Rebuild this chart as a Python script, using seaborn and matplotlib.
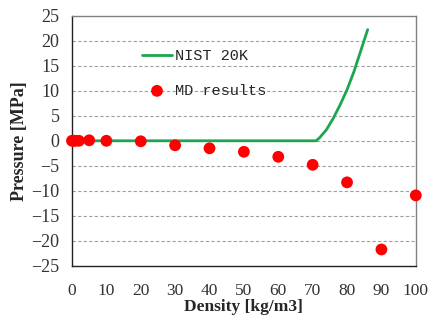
import matplotlib
matplotlib.use("Agg")
import matplotlib.pyplot as plt
import seaborn as sns
import pandas as pd

# NIST reference isotherm at 20 K
nist_density = [0, 10, 20, 30, 40, 50, 60, 70, 71, 72, 74, 76, 78, 80, 82, 84, 86]
nist_pressure = [0, 0, 0, 0, 0, 0, 0, 0, 0, 0.6, 2.2, 4.5, 7.2, 10.2, 13.8, 18.0, 22.2]

# Molecular dynamics results
md_density = [0, 0.5, 1, 2, 5, 10, 20, 30, 40, 50, 60, 70, 80, 90, 100]
md_pressure = [0, 0, 0, 0, 0.1, 0, -0.1, -0.9, -1.5, -2.2, -3.2, -4.8, -8.3, -21.7, -10.9]

x_ticks = [0, 10, 20, 30, 40, 50, 60, 70, 80, 90, 100]
y_ticks = [-25, -20, -15, -10, -5, 0, 5, 10, 15, 20, 25]

sns.set_style("white")
plt.rcParams["font.family"] = ["Liberation Serif", "DejaVu Serif"]

fig = plt.figure(figsize=(4.3, 3.2), dpi=100)
ax = fig.add_axes([0.1674, 0.1688, 0.7996, 0.7825])

nist = pd.DataFrame({"density": nist_density, "pressure": nist_pressure})
md = pd.DataFrame({"density": md_density, "pressure": md_pressure})

sns.lineplot(data=nist, x="density", y="pressure", ax=ax, color="#1ca64f",
             linewidth=2.0, label="NIST 20K", zorder=3)
sns.scatterplot(data=md, x="density", y="pressure", ax=ax, color="#ff0000",
                s=72, edgecolor="none", label="MD results", zorder=4, clip_on=False)

ax.set_xlim(0, 100)
ax.set_ylim(-25, 25)
ax.set_xticks(x_ticks)
ax.set_yticks(y_ticks)
ax.tick_params(axis="x", direction="inout", length=8, width=0.8, color="#444444",
               labelsize=12.5, pad=8)
ax.tick_params(axis="y", direction="out", length=4, width=0.8, color="#888888",
               labelsize=13, pad=5)
for lab in ax.get_xticklabels() + ax.get_yticklabels():
    lab.set_color("#333333")

for y in y_ticks[1:-1]:
    ax.axhline(y, color="#a0a0a0", linestyle=(0, (3, 2)), linewidth=0.8, zorder=1)

ax.spines["left"].set_color("#222222")
ax.spines["bottom"].set_color("#222222")
ax.spines["top"].set_color("#808080")
ax.spines["right"].set_color("#808080")
for s in ax.spines.values():
    s.set_linewidth(1.0)

ax.set_xlabel("Density [kg/m3]", fontsize=12.5, fontweight="bold", labelpad=0)
ax.set_ylabel("Pressure [MPa]", fontsize=13, fontweight="bold", labelpad=2)

ax.legend(loc="upper left", bbox_to_anchor=(0.185, 0.89), frameon=False,
          prop={"family": ["Liberation Mono"], "size": 11},
          handlelength=2.0, labelspacing=1.35, handletextpad=0.2,
          borderaxespad=0)

fig.savefig("out.png", dpi=100)
